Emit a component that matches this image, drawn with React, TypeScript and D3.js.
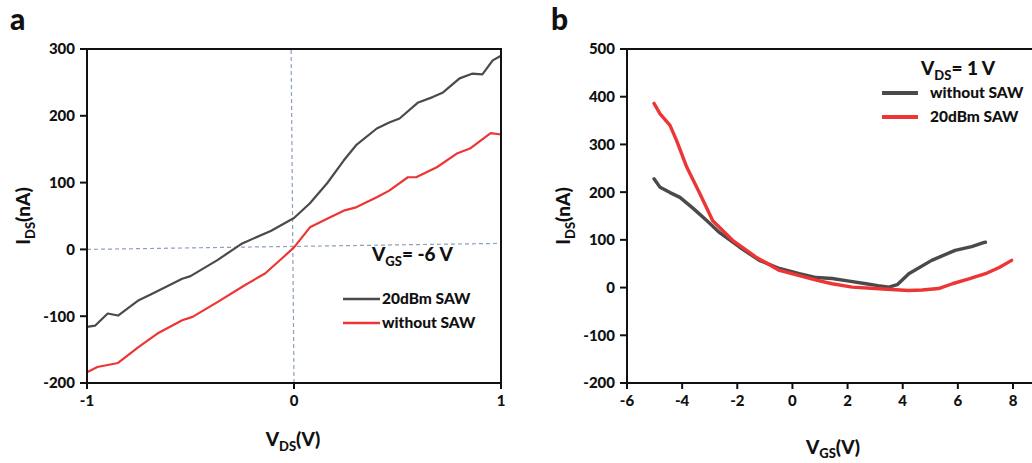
import React from "react";
import * as d3 from "d3";

// ---------- Panel a data (I_DS vs V_DS, V_GS = -6 V) ----------
const aSawV = [-1, -0.96, -0.9, -0.85, -0.75, -0.69, -0.54, -0.5, -0.37, -0.25, -0.11, 0.0, 0.077, 0.16, 0.24, 0.3, 0.4, 0.46, 0.51, 0.6, 0.67, 0.72, 0.8, 0.86, 0.91, 0.96, 1.0];
const aSawI = [-116, -114, -96, -99, -76, -67, -44, -40, -16, 9, 28, 47, 69, 99, 133, 156, 181, 190, 196, 220, 228, 235, 256, 263, 262, 283, 290];
const aNoSawV = [-1, -0.95, -0.85, -0.75, -0.66, -0.54, -0.49, -0.37, -0.24, -0.14, -0.06, 0.0, 0.077, 0.16, 0.24, 0.3, 0.4, 0.46, 0.55, 0.59, 0.69, 0.79, 0.85, 0.95, 1.0];
const aNoSawI = [-184, -176, -170, -146, -126, -106, -101, -79, -54, -36, -14, 3, 33, 46, 58, 63, 78, 88, 108, 108, 123, 144, 151, 174, 172];
const aXTicks = [-1, 0, 1];
const aYTicks = [-200, -100, 0, 100, 200, 300];
const aHLine = [[-1, 0], [1, 9]];
const aVLine = [[0, -200], [-0.014, 300]];

// ---------- Panel b data (I_DS vs V_GS, V_DS = 1 V) ----------
const bNoSawV = [-5.02, -4.8, -4.44, -4.08, -3.6, -3.1, -2.64, -1.9, -1.2, -0.47, 0.25, 0.87, 1.44, 2.0, 2.67, 3.1, 3.5, 3.8, 4.22, 5.05, 5.9, 6.5, 6.93, 7.0];
const bNoSawI = [228, 210, 199, 189, 166, 140, 115, 84, 57, 40, 29, 21, 19, 14, 8, 4, 1, 6, 29, 57, 78, 86, 94, 95];
const bSawV = [-5.02, -4.8, -4.44, -4.2, -3.83, -3.36, -2.89, -2.17, -1.3, -0.47, 0.25, 0.9, 1.44, 2.17, 3.0, 3.6, 4.2, 4.7, 5.3, 5.8, 6.4, 7.0, 7.5, 7.95];
const bSawI = [386, 364, 340, 308, 252, 197, 140, 99, 63, 36, 25, 15, 8, 1, -2, -4, -6, -5, -2, 8, 18, 29, 42, 57];
const bXTicks = [-6, -4, -2, 0, 2, 4, 6, 8];
const bYTicks = [-200, -100, 0, 100, 200, 300, 400, 500];

const GRAY = "#4a4a4a";
const RED = "#ee3535";
const FONT = "Lato, 'Open Sans', sans-serif";

const zip = (xs: number[], ys: number[]) => xs.map((x, i) => [x, ys[i]] as [number, number]);

export default function App() {
  // panel a scales
  const ax = d3.scaleLinear().domain([-1, 1]).range([87, 501]);
  const ay = d3.scaleLinear().domain([-200, 300]).range([383, 49]);
  // panel b scales
  const bx = d3.scaleLinear().domain([-6, 8]).range([627, 1013]);
  const by = d3.scaleLinear().domain([-200, 500]).range([383, 49]);

  const aLine = d3.line<[number, number]>().x((d) => ax(d[0])).y((d) => ay(d[1]));
  const bLine = d3.line<[number, number]>().x((d) => bx(d[0])).y((d) => by(d[1]));

  const tickStyle = { fontFamily: FONT, fontWeight: 900, fontSize: 15, fill: "#111" } as const;
  const legSize = 15.5;

  return (
    <svg width={1032} height={463} style={{ position: "absolute", left: 0, top: 0, background: "#fff" }} fontFamily={FONT}>
      <rect width={1032} height={463} fill="#fff" />
      {/* ================= Panel a ================= */}
      <text x={10} y={30} fontSize={30} fontWeight={900} fill="#111">a</text>
      {/* dashed reference lines */}
      <path d={aLine(aHLine as [number, number][]) || ""} stroke="#8da0bd" strokeWidth={1.2} strokeDasharray="4,3" fill="none" />
      <path d={aLine(aVLine as [number, number][]) || ""} stroke="#8da0bd" strokeWidth={1.2} strokeDasharray="4,3" fill="none" />
      {/* curves */}
      <path d={aLine(zip(aNoSawV, aNoSawI)) || ""} stroke={RED} strokeWidth={2.2} fill="none" strokeLinejoin="round" />
      <path d={aLine(zip(aSawV, aSawI)) || ""} stroke={GRAY} strokeWidth={2.2} fill="none" strokeLinejoin="round" />
      {/* frame */}
      <rect x={ax(-1)} y={ay(300)} width={ax(1) - ax(-1)} height={ay(-200) - ay(300)} fill="none" stroke="#111" strokeWidth={2} />
      {aYTicks.map((t) => (
        <g key={"ay" + t}>
          <line x1={ax(-1) - 7} x2={ax(-1)} y1={ay(t)} y2={ay(t)} stroke="#111" strokeWidth={2} />
          <text x={ax(-1) - 12} y={ay(t)} dy="0.36em" textAnchor="end" {...tickStyle}>{t}</text>
        </g>
      ))}
      {aXTicks.map((t) => (
        <g key={"ax" + t}>
          <line x1={ax(t)} x2={ax(t)} y1={ay(-200)} y2={ay(-200) + 6} stroke="#111" strokeWidth={2} />
          <text x={ax(t)} y={ay(-200) + 23} textAnchor="middle" {...tickStyle}>{t}</text>
        </g>
      ))}
      {/* axis titles */}
      <text x={293} y={446} textAnchor="middle" fontSize={19} fontWeight={900} fill="#111">
        V<tspan fontSize={13} dy={5}>DS</tspan><tspan dy={-5}>(V)</tspan>
      </text>
      <text transform="translate(30,216) rotate(-90)" textAnchor="middle" fontSize={19} fontWeight={900} fill="#111">
        I<tspan fontSize={13} dy={5}>DS</tspan><tspan dy={-5}>(nA)</tspan>
      </text>
      {/* annotation + legend */}
      <text x={372} y={261} fontSize={19} fontWeight={900} fill="#111">
        V<tspan fontSize={13} dy={5}>GS</tspan><tspan dy={-5}>= -6 V</tspan>
      </text>
      <line x1={343} x2={380} y1={299} y2={299} stroke={GRAY} strokeWidth={2.5} />
      <text x={382} y={304} fontSize={legSize} fontWeight={900} fill="#111">20dBm SAW</text>
      <line x1={343} x2={380} y1={323} y2={323} stroke={RED} strokeWidth={2.5} />
      <text x={382} y={328} fontSize={legSize} fontWeight={900} fill="#111">without SAW</text>

      {/* ================= Panel b ================= */}
      <text x={551} y={30} fontSize={30} fontWeight={900} fill="#111">b</text>
      <path d={bLine(zip(bNoSawV, bNoSawI)) || ""} stroke={GRAY} strokeWidth={3.4} fill="none" strokeLinejoin="round" strokeLinecap="round" />
      <path d={bLine(zip(bSawV, bSawI)) || ""} stroke={RED} strokeWidth={3.4} fill="none" strokeLinejoin="round" strokeLinecap="round" />
      {/* frame: left, bottom, top (right edge outside picture) */}
      <line x1={bx(-6)} x2={bx(-6)} y1={by(500)} y2={by(-200)} stroke="#111" strokeWidth={2} />
      <line x1={bx(-6)} x2={1040} y1={by(-200)} y2={by(-200)} stroke="#111" strokeWidth={2} />
      <line x1={bx(-6)} x2={1040} y1={by(500)} y2={by(500)} stroke="#111" strokeWidth={2} />
      {bYTicks.map((t) => (
        <g key={"by" + t}>
          <line x1={bx(-6) - 7} x2={bx(-6)} y1={by(t)} y2={by(t)} stroke="#111" strokeWidth={2} />
          <text x={bx(-6) - 12} y={by(t)} dy="0.36em" textAnchor="end" {...tickStyle}>{t}</text>
        </g>
      ))}
      {bXTicks.map((t) => (
        <g key={"bx" + t}>
          <line x1={bx(t)} x2={bx(t)} y1={by(-200)} y2={by(-200) + 6} stroke="#111" strokeWidth={2} />
          <text x={bx(t)} y={by(-200) + 23} textAnchor="middle" {...tickStyle}>{t}</text>
        </g>
      ))}
      <text x={833} y={454} textAnchor="middle" fontSize={19} fontWeight={900} fill="#111">
        V<tspan fontSize={13} dy={4}>GS</tspan><tspan dy={-4}>(V)</tspan>
      </text>
      <text transform="translate(570,216) rotate(-90)" textAnchor="middle" fontSize={19} fontWeight={900} fill="#111">
        I<tspan fontSize={13} dy={5}>DS</tspan><tspan dy={-5}>(nA)</tspan>
      </text>
      <text x={921} y={75} fontSize={19} fontWeight={900} fill="#111">
        V<tspan fontSize={13} dy={5}>DS</tspan><tspan dy={-5}>= 1 V</tspan>
      </text>
      <line x1={882} x2={918} y1={93} y2={93} stroke={GRAY} strokeWidth={4} />
      <text x={930} y={98} fontSize={legSize} fontWeight={900} fill="#111">without SAW</text>
      <line x1={882} x2={918} y1={117} y2={117} stroke={RED} strokeWidth={4} />
      <text x={930} y={122} fontSize={legSize} fontWeight={900} fill="#111">20dBm SAW</text>
    </svg>
  );
}
